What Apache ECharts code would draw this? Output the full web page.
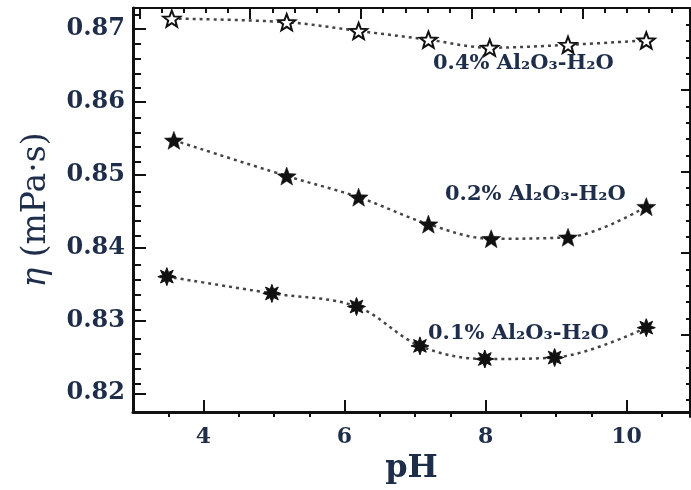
<!DOCTYPE html>
<html><head><meta charset="utf-8">
<script src="https://cdn.jsdelivr.net/npm/echarts@6/dist/echarts.min.js"></script>
<style>html,body{margin:0;padding:0;background:#fff}#c{width:691px;height:490px}</style>
</head><body><div id="c"></div>
<script>
// ---- data ----
const pH04 = [3.55, 5.18, 6.20, 7.19, 8.06, 9.17, 10.28];
const eta04 = [0.8714, 0.8709, 0.8697, 0.8685, 0.8674, 0.8678, 0.8684];
const pH02 = [3.58, 5.18, 6.20, 7.19, 8.08, 9.17, 10.28];
const eta02 = [0.8547, 0.8498, 0.8469, 0.8432, 0.8412, 0.8414, 0.8456];
const pH01 = [3.48, 4.97, 6.17, 7.07, 7.99, 8.98, 10.28];
const eta01 = [0.8360, 0.8337, 0.8319, 0.8265, 0.8247, 0.8249, 0.8290];
const xTickLabels = [4, 6, 8, 10];
const yTickLabels = [0.82, 0.83, 0.84, 0.85, 0.86, 0.87];
const seriesNames = ['0.4% Al₂O₃-H₂O', '0.2% Al₂O₃-H₂O', '0.1% Al₂O₃-H₂O'];
const xName = 'pH';
const yName = '{i|η} (mPa·s)';

// ---- axis ranges / tick sets ----
const X_MIN = 3.0, X_MAX = 10.9;
const Y_MIN = 0.81743, Y_MAX = 0.87285;
const xMinor = [];
for (let v = 7; v <= 21; v++) { if (v % 4 !== 0) xMinor.push(v / 2); }
const yMinor = [];
for (let v = 818; v <= 872; v += 2) { if (v % 10 !== 0) yMinor.push(v / 1000); }
const topMinor = [], topMajor = [];
for (let k = -10; k <= 16; k++) {
  const v = 6.2337 + k * 0.31445;
  if (v > X_MIN + 0.05 && v < X_MAX - 0.05) (k % 5 === 0 ? topMajor : topMinor).push(+v.toFixed(4));
}
const rightMinor = [], rightMajor = [];
for (let k = -5; k <= 30; k++) {
  const v = 0.86173 - k * 0.002211;
  if (v > Y_MIN + 0.0004 && v < Y_MAX - 0.0004) (k % 5 === 0 ? rightMajor : rightMinor).push(+v.toFixed(5));
}

const FONT = 'DejaVu Serif';
const TXT = '#1e2d4a';

function starPath(n, ratio) {
  const pts = [];
  for (let i = 0; i < 2 * n; i++) {
    const r = i % 2 ? ratio * 50 : 50;
    const a = -Math.PI / 2 + i * Math.PI / n;
    pts.push((50 + r * Math.cos(a)).toFixed(2) + ',' + (50 + r * Math.sin(a)).toFixed(2));
  }
  return 'path://M' + pts.join('L') + 'Z';
}
const star5 = starPath(5, 0.42);
const star8 = starPath(8, 0.5);

const zip = (a, b) => a.map((v, i) => [v, b[i]]);

const gridBox = { left: 133, right: 1, top: 8, bottom: 73 };
const grids = [0, 1, 2, 3].map(() => Object.assign({}, gridBox));

function xa(grid, pos, ticks, len, lineW, extra) {
  return Object.assign({
    type: 'value', gridIndex: grid, position: pos, min: X_MIN, max: X_MAX,
    axisLine: { show: lineW > 0, lineStyle: { color: '#111', width: lineW } },
    axisTick: { show: true, inside: true, length: len, customValues: ticks, lineStyle: { color: '#111', width: 2 } },
    axisLabel: { show: false }, splitLine: { show: false }
  }, extra || {});
}
function ya(grid, pos, ticks, len, lineW, extra) {
  return Object.assign({
    type: 'value', gridIndex: grid, position: pos, min: Y_MIN, max: Y_MAX,
    axisLine: { show: lineW > 0, lineStyle: { color: '#111', width: lineW } },
    axisTick: { show: true, inside: true, length: len, customValues: ticks, lineStyle: { color: '#111', width: 2 } },
    axisLabel: { show: false }, splitLine: { show: false }
  }, extra || {});
}

const option = {
  backgroundColor: '#fff',
  animation: false,
  grid: grids,
  xAxis: [
    xa(0, 'bottom', xTickLabels, 12, 3, {
      axisLabel: { show: true, customValues: xTickLabels, margin: 14, fontFamily: FONT, fontWeight: 'bold', fontSize: 22, color: TXT },
      name: xName, nameLocation: 'middle', nameGap: 41,
      nameTextStyle: { fontFamily: FONT, fontWeight: 'bold', fontSize: 32, color: TXT }
    }),
    xa(1, 'bottom', xMinor, 6, 0),
    xa(2, 'top', topMinor, 5, 2),
    xa(3, 'top', topMajor, 11, 0)
  ],
  yAxis: [
    ya(0, 'left', yTickLabels, 13, 3, {
      axisLabel: { show: true, customValues: yTickLabels, margin: 8, fontFamily: FONT, fontWeight: 'bold', fontSize: 24, color: TXT,
        formatter: v => v.toFixed(2) },
      name: yName, nameLocation: 'middle', nameGap: 80, nameRotate: 90,
      nameTextStyle: { fontFamily: FONT, fontSize: 33, color: TXT,
        rich: { i: { fontFamily: FONT, fontStyle: 'italic', fontSize: 33, color: TXT } } }
    }),
    ya(1, 'left', yMinor, 8, 0),
    ya(2, 'right', rightMinor, 4, 2),
    ya(3, 'right', rightMajor, 9, 0)
  ],
  graphic: [
    { type: 'text', left: 433, top: 53, style: { text: seriesNames[0], font: 'bold 21px "DejaVu Serif"', fill: TXT } },
    { type: 'text', left: 445, top: 184, style: { text: seriesNames[1], font: 'bold 21px "DejaVu Serif"', fill: TXT } },
    { type: 'text', left: 428, top: 323, style: { text: seriesNames[2], font: 'bold 21px "DejaVu Serif"', fill: TXT } }
  ],
  series: [
    { name: seriesNames[0], type: 'line', xAxisIndex: 0, yAxisIndex: 0, data: zip(pH04, eta04), smooth: 0.35,
      symbol: star5, symbolSize: 17, symbolKeepAspect: true,
      itemStyle: { color: '#fff', borderColor: '#111', borderWidth: 2 },
      lineStyle: { color: '#444', width: 2.5, type: [3, 4] } },
    { name: seriesNames[1], type: 'line', xAxisIndex: 0, yAxisIndex: 0, data: zip(pH02, eta02), smooth: 0.35,
      symbol: star5, symbolSize: 19, symbolKeepAspect: true,
      itemStyle: { color: '#111', borderColor: '#111', borderWidth: 0.5 },
      lineStyle: { color: '#444', width: 2.5, type: [3, 4] } },
    { name: seriesNames[2], type: 'line', xAxisIndex: 0, yAxisIndex: 0, data: zip(pH01, eta01), smooth: 0.35,
      symbol: star8, symbolSize: 18, symbolKeepAspect: true,
      itemStyle: { color: '#111', borderColor: '#111', borderWidth: 1 },
      lineStyle: { color: '#444', width: 2.5, type: [3, 4] } }
  ]
};
const chart = echarts.init(document.getElementById('c'), null, { renderer: 'canvas' });
chart.setOption(option);
</script>
</body></html>
